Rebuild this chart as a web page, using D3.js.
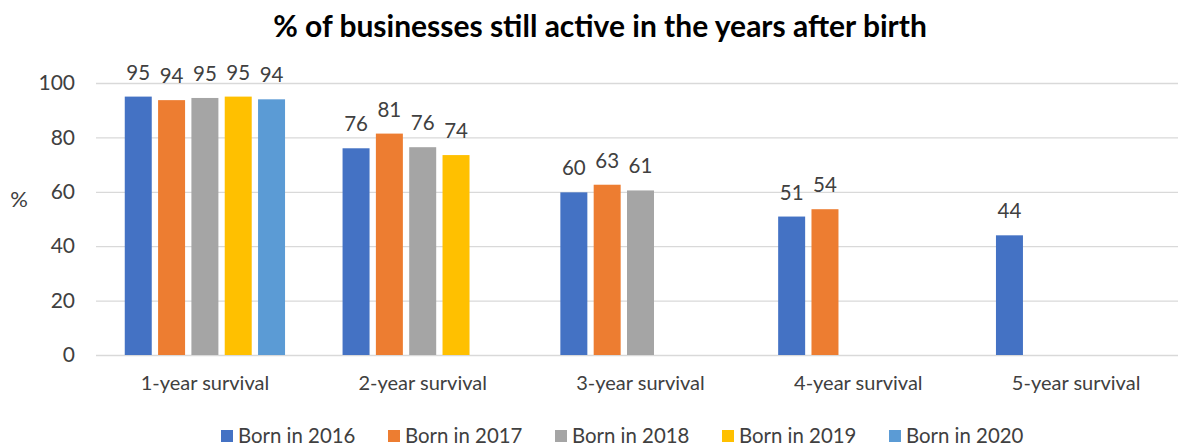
<!DOCTYPE html>
<html>
<head>
<meta charset="utf-8">
<script src="https://cdn.jsdelivr.net/npm/d3@7"></script>
<style>
    body { margin: 0; background: #fff; }
    text { font-family: Lato, "Open Sans", sans-serif; fill: #404040; }
</style>
</head>
<body>
<div id="chart-area"></div>
<script>

// data
const categories = ["1-year survival", "2-year survival", "3-year survival", "4-year survival", "5-year survival"];
const seriesNames = ["Born in 2016", "Born in 2017", "Born in 2018", "Born in 2019", "Born in 2020"];
const born2016 = [95.0, 76.0, 59.8, 50.9, 44.0];
const born2017 = [93.7, 81.4, 62.6, 53.6, null];
const born2018 = [94.5, 76.4, 60.5, null, null];
const born2019 = [95.0, 73.5, null, null, null];
const born2020 = [94.0, null, null, null, null];
const yTicks = [0, 20, 40, 60, 80, 100];
const colors = ["#4472C4", "#ED7D31", "#A5A5A5", "#FFC000", "#5B9BD5"];

class GroupedBarVis {

    constructor(parentElement, data) {
        this.parentElement = parentElement;
        this.data = data;
        this.initVis();
    }

    initVis() {
        let vis = this;

        vis.margin = {top: 83, right: -7, bottom: 92, left: 96};
        vis.width = 1178 - vis.margin.left - vis.margin.right;
        vis.height = 447 - vis.margin.top - vis.margin.bottom;

        vis.root = d3.select("#" + vis.parentElement).append("svg")
            .attr("width", 1178)
            .attr("height", 447);

        vis.svg = vis.root.append("g")
            .attr("transform", "translate(" + vis.margin.left + "," + vis.margin.top + ")");

        // title
        vis.root.append("text")
            .attr("x", 600)
            .attr("y", 37)
            .attr("text-anchor", "middle")
            .style("font-weight", "bold")
            .style("font-size", "30px")
            .style("fill", "#000")
            .text("% of businesses still active in the years after birth");

        // y axis label
        vis.root.append("text")
            .attr("x", 19)
            .attr("y", 207)
            .attr("text-anchor", "middle")
            .style("font-size", "22px")
            .text("%");

        vis.x0 = d3.scaleBand()
            .domain(categories)
            .range([0, vis.width]);

        let bw = vis.x0.bandwidth();
        vis.x1 = d3.scaleBand()
            .domain(seriesNames)
            .range([bw * 0.1175, bw * 0.8825])
            .paddingInner(0.19)
            .paddingOuter(0.095);

        vis.y = d3.scaleLinear()
            .domain([0, 100])
            .range([vis.height, 0]);

        vis.yAxis = d3.axisLeft(vis.y)
            .tickValues(yTicks)
            .tickSize(-vis.width)
            .tickPadding(21);

        vis.xAxis = d3.axisBottom(vis.x0)
            .tickSize(0)
            .tickPadding(21);

        vis.wrangleData();
    }

    wrangleData() {
        let vis = this;

        // flatten into one record per bar, skip the empty slots
        vis.displayData = [];
        categories.forEach((c, i) => {
            vis.data.forEach((s, j) => {
                if (s.values[i] != null) {
                    vis.displayData.push({category: c, series: s.name, value: s.values[i], color: colors[j]});
                }
            });
        });

        vis.updateVis();
    }

    updateVis() {
        let vis = this;

        // gridlines + y labels
        let yG = vis.svg.append("g")
            .attr("class", "axis y-axis")
            .call(vis.yAxis);
        yG.select(".domain").remove();
        yG.selectAll(".tick line")
            .attr("stroke", "#D9D9D9")
            .attr("stroke-width", 1.3);
        yG.selectAll(".tick text")
            .style("font-size", "21px")
            .style("font-family", "Lato, sans-serif")
            .attr("fill", "#404040");

        // category labels
        let xG = vis.svg.append("g")
            .attr("class", "axis x-axis")
            .attr("transform", "translate(0," + vis.height + ")")
            .call(vis.xAxis);
        xG.select(".domain").remove();
        xG.selectAll(".tick text")
            .style("font-size", "20px")
            .style("font-family", "Lato, sans-serif")
            .attr("fill", "#404040");

        // bars
        vis.svg.selectAll(".bar")
            .data(vis.displayData)
            .enter().append("rect")
            .attr("class", "bar")
            .attr("x", d => vis.x0(d.category) + vis.x1(d.series))
            .attr("width", vis.x1.bandwidth())
            .attr("y", d => vis.y(d.value))
            .attr("height", d => vis.height - vis.y(d.value))
            .attr("fill", d => d.color);

        // value labels
        vis.svg.selectAll(".bar-label")
            .data(vis.displayData)
            .enter().append("text")
            .attr("class", "bar-label")
            .attr("x", d => vis.x0(d.category) + vis.x1(d.series) + vis.x1.bandwidth() / 2)
            .attr("y", d => vis.y(d.value) - 17)
            .attr("text-anchor", "middle")
            .style("font-size", "20.5px")
            .text(d => Math.round(d.value));

        // legend
        let legend = vis.root.append("g")
            .attr("class", "legend")
            .attr("transform", "translate(221,430)");

        let items = legend.selectAll(".legend-item")
            .data(vis.data)
            .enter().append("g")
            .attr("class", "legend-item")
            .attr("transform", (d, i) => "translate(" + (i * 167) + ",0)");

        items.append("rect")
            .attr("width", 12)
            .attr("height", 12)
            .attr("fill", (d, i) => colors[i]);

        items.append("text")
            .attr("x", 17)
            .attr("y", 12.5)
            .style("font-size", "20.4px")
            .text(d => d.name);
    }
}

let seriesData = [born2016, born2017, born2018, born2019, born2020]
    .map((v, i) => ({name: seriesNames[i], values: v}));

new GroupedBarVis("chart-area", seriesData);

</script>
</body>
</html>
